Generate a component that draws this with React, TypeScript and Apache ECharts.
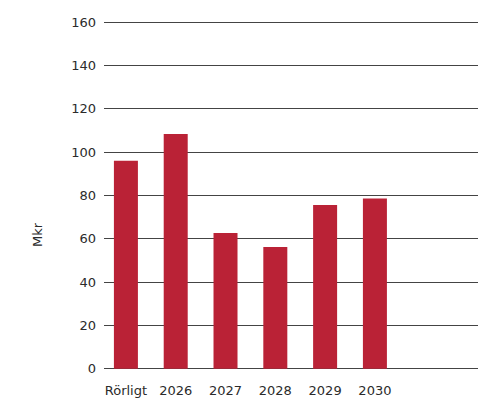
import React, { useEffect, useRef } from "react";
import * as echarts from "echarts";

const categories = ["Rörligt", "2026", "2027", "2028", "2029", "2030"];
const values = [96, 108.3, 62.6, 56.2, 75.5, 78.5];
const yTicks = [0, 20, 40, 60, 80, 100, 120, 140, 160];
const axisTitle = "Mkr";

const FONT = "'DejaVu Sans', sans-serif";

export default function App() {
  const ref = useRef<HTMLDivElement>(null);
  useEffect(() => {
    if (!ref.current) return;
    const chart = echarts.init(ref.current, undefined, { renderer: "svg" });
    const idx = categories.map((_, i) => i);
    chart.setOption({
      animation: false,
      backgroundColor: "#ffffff",
      grid: { left: 104, right: 0, top: 22, bottom: 32.3, containLabel: false },
      xAxis: {
        type: "value",
        min: -0.44,
        max: 7.07,
        axisLine: { show: false },
        axisTick: { show: false },
        splitLine: { show: false },
        axisLabel: {
          customValues: idx,
          formatter: (v: number) => categories[Math.round(v)] ?? "",
          color: "#2b2b2b",
          fontFamily: FONT,
          fontSize: 13,
          margin: 15,
        },
      },
      yAxis: {
        type: "value",
        min: yTicks[0],
        max: yTicks[yTicks.length - 1],
        interval: 20,
        axisLine: { show: false },
        axisTick: { show: false },
        axisLabel: {
          color: "#2b2b2b",
          fontFamily: FONT,
          fontSize: 13,
          margin: 8,
        },
        splitLine: { show: true, lineStyle: { color: "#444444", width: 1 } },
      },
      graphic: [
        {
          type: "text",
          x: 37,
          y: 235,
          rotation: Math.PI / 2,
          style: {
            text: axisTitle,
            fill: "#2b2b2b",
            font: `13px ${FONT}`,
            align: "center",
            verticalAlign: "middle",
          },
        },
      ],
      series: [
        {
          type: "bar",
          barWidth: 24,
          data: values.map((v, i) => [i, v]),
          itemStyle: { color: "#ba2236" },
          z: 3,
        },
      ],
    });
    return () => chart.dispose();
  }, []);
  return <div ref={ref} style={{ width: 478, height: 401, position: "absolute", left: 0, top: 0 }} />;
}
